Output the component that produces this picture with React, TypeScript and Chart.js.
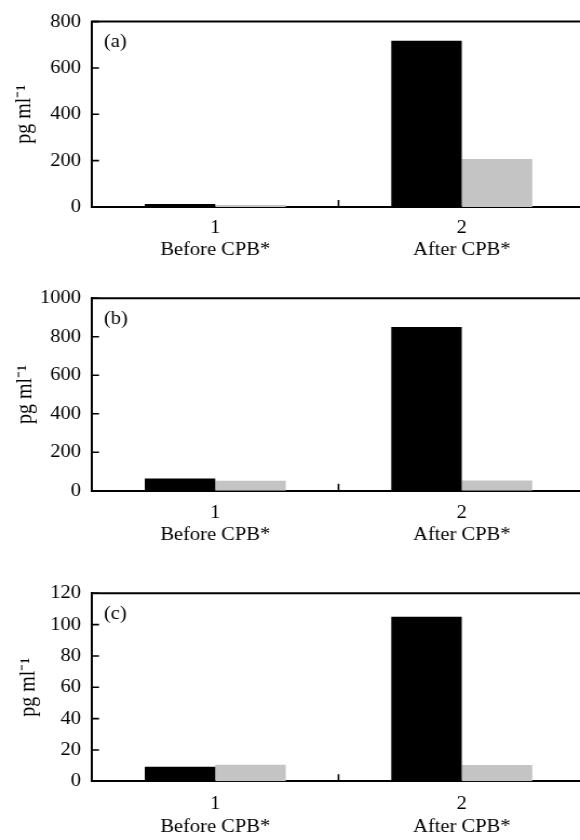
import React, { useEffect, useRef } from "react";
import { Chart, registerables } from "chart.js";
Chart.register(...registerables);

// ---- data ----
const categoryNumbers = ["1", "2"];
const categoryNames = ["Before CPB*", "After CPB*"];
const panelLabels = ["(a)", "(b)", "(c)"];
const yMaxes = [800, 1000, 120];
const ySteps = [200, 200, 20];
const blackA = [13, 717];
const grayA = [9, 207];
const blackB = [64, 851];
const grayB = [52, 53];
const blackC = [9.3, 105];
const grayC = [10.6, 10.4];
const yTitle = "pg ml\u207B\u00B9";

const FONT = "'Liberation Serif', 'Times New Roman', serif";
const STRETCH = 1.08;
const BOXW = 550;
const PLOT_RIGHT = 585 / STRETCH;

const decor = {
  id: "decor",
  afterDraw(chart: any, _args: any, opts: any) {
    const { ctx, chartArea: ca, scales } = chart;
    const y = scales.y;
    const x = scales.x;
    ctx.save();
    ctx.strokeStyle = "#000";
    ctx.lineWidth = 2;
    ctx.beginPath();
    ctx.moveTo(ca.left - 1, ca.top);
    ctx.lineTo(ca.right + 20, ca.top);
    ctx.stroke();
    ctx.lineWidth = 1.6;
    ctx.beginPath();
    y.ticks.forEach((t: any) => {
      const py = y.getPixelForValue(t.value);
      ctx.moveTo(ca.left, py);
      ctx.lineTo(ca.left + 6.5, py);
    });
    const mid = (x.getPixelForTick(0) + x.getPixelForTick(1)) / 2;
    ctx.moveTo(mid, ca.bottom);
    ctx.lineTo(mid, ca.bottom - 7);
    ctx.stroke();
    ctx.fillStyle = "#000";
    ctx.font = `19px ${FONT}`;
    ctx.textAlign = "left";
    ctx.textBaseline = "middle";
    ctx.fillText(opts.label, ca.left + 11.1, ca.top + 20.5);
    ctx.restore();
  },
};

type PanelProps = {
  top: number;
  height: number;
  padTop: number;
  xAxisH: number;
  xPad: number;
  titlePad: number;
  black: number[];
  gray: number[];
  max: number;
  step: number;
  label: string;
};

function Panel(p: PanelProps) {
  const ref = useRef<HTMLCanvasElement | null>(null);
  useEffect(() => {
    if (!ref.current) return;
    const labels = categoryNumbers.map((n, i) => [n, categoryNames[i]]);
    const chart = new Chart(ref.current, {
      type: "bar",
      data: {
        labels,
        datasets: [
          { data: p.black, backgroundColor: "#000000", borderWidth: 0 },
          { data: p.gray, backgroundColor: "#c4c4c4", borderWidth: 0 },
        ],
      },
      plugins: [decor as any],
      options: {
        animation: false,
        responsive: true,
        maintainAspectRatio: false,
        layout: { padding: { top: p.padTop, right: BOXW - PLOT_RIGHT, bottom: 0, left: 0 } },
        datasets: { bar: { categoryPercentage: 0.572, barPercentage: 1 } },
        plugins: {
          legend: { display: false },
          tooltip: { enabled: false },
          decor: { label: p.label },
        } as any,
        scales: {
          x: {
            z: 1,
            grid: { display: false, drawTicks: false },
            border: { display: true, color: "#000", width: 2 },
            ticks: {
              color: "#000",
              padding: p.xPad,
              font: { family: FONT, size: 19, lineHeight: 1.17 },
              maxRotation: 0,
              autoSkip: false,
            },
            afterFit: (s: any) => {
              s.height = p.xAxisH;
            },
          },
          y: {
            z: 1,
            min: 0,
            max: p.max,
            grid: { display: false, drawTicks: false },
            border: { display: true, color: "#000", width: 2 },
            ticks: {
              stepSize: p.step,
              color: "#000",
              padding: 10.2,
              font: { family: FONT, size: 19 },
              callback: (v: any) => String(v),
            },
            title: {
              display: true,
              text: yTitle,
              color: "#000",
              font: { family: FONT, size: 20, lineHeight: 1.2 },
              padding: { top: p.titlePad, bottom: 0 },
            },
            afterFit: (s: any) => {
              s.width = 92 / STRETCH;
            },
          },
        },
      } as any,
    });
    return () => chart.destroy();
  }, []);
  return (
    <div
      style={{
        position: "absolute",
        left: 0,
        top: p.top,
        width: BOXW,
        height: p.height,
        transform: `scaleX(${STRETCH})`,
        transformOrigin: "0 0",
      }}
    >
      <canvas ref={ref} />
    </div>
  );
}

export default function App() {
  return (
    <div
      style={{
        position: "fixed",
        left: 0,
        top: 0,
        width: 580,
        height: 840,
        overflow: "hidden",
        background: "#fff",
      }}
    >
      <Panel top={0} height={270} padTop={20} xAxisH={63} xPad={9.6} titlePad={11.1}
        black={blackA} gray={grayA} max={yMaxes[0]} step={ySteps[0]} label={panelLabels[0]} />
      <Panel top={270} height={290} padTop={28.3} xAxisH={69.3} xPad={10.8} titlePad={11.9}
        black={blackB} gray={grayB} max={yMaxes[1]} step={ySteps[1]} label={panelLabels[1]} />
      <Panel top={560} height={280} padTop={33.3} xAxisH={58.7} xPad={12} titlePad={14.9}
        black={blackC} gray={grayC} max={yMaxes[2]} step={ySteps[2]} label={panelLabels[2]} />
    </div>
  );
}
